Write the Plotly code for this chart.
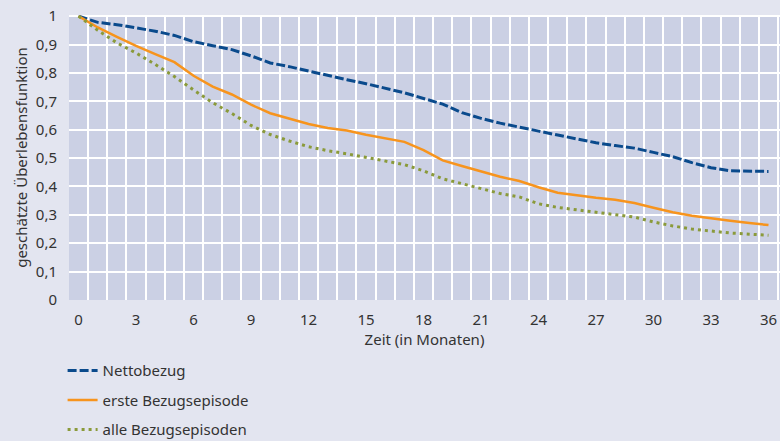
import plotly.graph_objects as go

months = list(range(0, 37))

nettobezug = [1.0, 0.978, 0.970, 0.959, 0.947, 0.932, 0.910, 0.896, 0.882, 0.860,
              0.835, 0.822, 0.806, 0.792, 0.776, 0.762, 0.747, 0.730, 0.710, 0.690,
              0.660, 0.640, 0.623, 0.608, 0.595, 0.581, 0.568, 0.554, 0.544, 0.535,
              0.520, 0.505, 0.484, 0.466, 0.455, 0.453, 0.453]

erste = [1.0, 0.960, 0.927, 0.895, 0.866, 0.838, 0.790, 0.752, 0.724, 0.688,
         0.658, 0.640, 0.620, 0.606, 0.597, 0.582, 0.570, 0.557, 0.528, 0.492,
         0.472, 0.452, 0.434, 0.419, 0.397, 0.378, 0.368, 0.360, 0.353, 0.342,
         0.325, 0.309, 0.297, 0.287, 0.279, 0.271, 0.264]

alle = [1.0, 0.950, 0.906, 0.870, 0.830, 0.787, 0.740, 0.695, 0.657, 0.615,
        0.583, 0.560, 0.540, 0.526, 0.515, 0.503, 0.489, 0.477, 0.455, 0.427,
        0.410, 0.392, 0.375, 0.363, 0.339, 0.326, 0.318, 0.308, 0.302, 0.292,
        0.275, 0.261, 0.250, 0.243, 0.236, 0.232, 0.228]

x_ticks = list(range(0, 37, 3))

FONT = "Noto Sans"
TXT = "#333333"

fig = go.Figure()
fig.add_trace(go.Scatter(x=months, y=nettobezug, mode="lines", name="Nettobezug",
                         legendgroup="a",
                         line=dict(color="#0a4a8c", width=3, dash="9px,3px")))
fig.add_trace(go.Scatter(x=months, y=erste, mode="lines", name="erste Bezugsepisode",
                         legendgroup="b",
                         line=dict(color="#f7941d", width=2.5)))
fig.add_trace(go.Scatter(x=months, y=alle, mode="lines", name="alle Bezugsepisoden",
                         legendgroup="c",
                         line=dict(color="#8a9a3a", width=3, dash="3px,4px")))

fig.update_layout(
    width=780, height=441,
    margin=dict(l=69, r=0, t=15, b=141, autoexpand=False),
    paper_bgcolor="#e3e5f0",
    plot_bgcolor="#cbd0e4",
    separators=",.",
    font=dict(family=FONT, size=15, color=TXT),
    showlegend=True,
    legend=dict(orientation="v", x=-0.009, y=-0.19, xanchor="left", yanchor="top",
                bgcolor="rgba(0,0,0,0)", tracegroupgap=7,
                font=dict(family=FONT, size=15, color=TXT)),
    xaxis=dict(range=[-0.5, 36.6], tickvals=x_ticks, showgrid=False, zeroline=False,
               ticks="outside", ticklen=6, tickcolor="rgba(0,0,0,0)",
               minor=dict(tick0=0.5, dtick=1, showgrid=True, gridcolor="white", gridwidth=1.5,
                          ticks=""),
               title=dict(text="Zeit (in Monaten)", standoff=2,
                         font=dict(family=FONT, size=15, color=TXT))),
    yaxis=dict(range=[0, 1.004], dtick=0.1, tick0=0, showgrid=True, gridcolor="white",
               gridwidth=1.5, zeroline=False,
               ticks="outside", ticklen=8, tickcolor="rgba(0,0,0,0)",
               title=dict(text="geschätzte Überlebensfunktion", standoff=4,
                          font=dict(family=FONT, size=15, color=TXT))),
)

fig.write_html("out.html", config={"displayModeBar": False},
               post_script="document.body.style.margin='0';document.body.style.background='#e3e5f0';")
